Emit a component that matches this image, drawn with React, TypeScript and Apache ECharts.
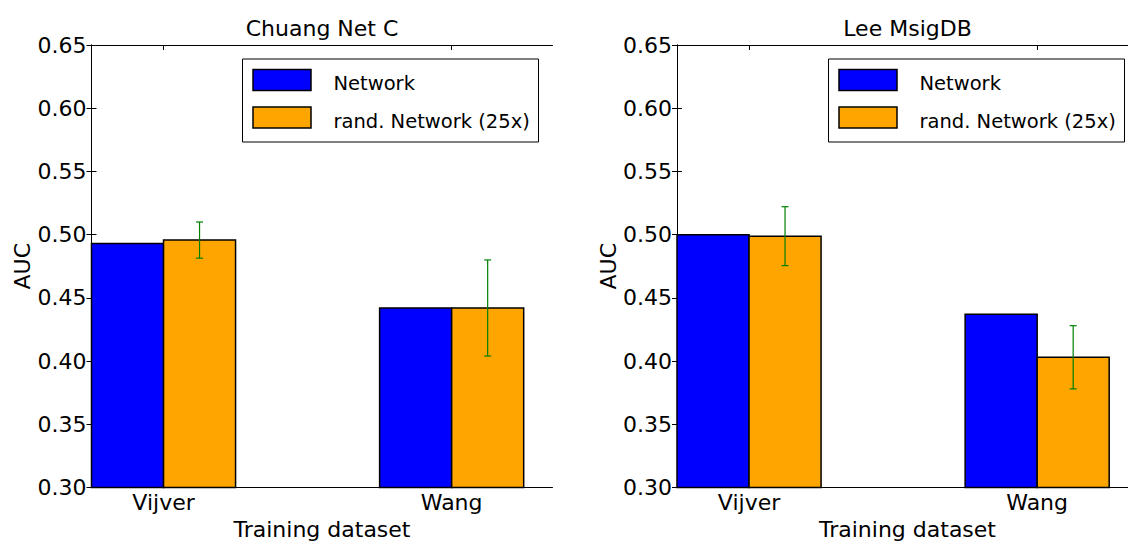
import React, { useEffect, useRef } from 'react';
import * as echarts from 'echarts';

const categories = ['Vijver', 'Wang'];
const panelTitles = ['Chuang Net C', 'Lee MsigDB'];
const seriesNames = ['Network', 'rand. Network (25x)'];
const seriesColors = ['#0000ff', '#ffa500'];
const errorColor = '#008000';

const chuangNetwork = [0.493, 0.442];
const chuangRand = [0.4957, 0.442];
const chuangRandErr = [0.0143, 0.038];

const leeNetwork = [0.5, 0.437];
const leeRand = [0.4988, 0.403];
const leeRandErr = [0.0233, 0.025];

const yMin = 0.3;
const yMax = 0.65;
const yStep = 0.05;
const barWidth = 0.25;
const xMax = 1.6;

const FONT = 'DejaVu Sans';

const panels = [
  { title: panelTitles[0], net: chuangNetwork, rand: chuangRand, err: chuangRandErr },
  { title: panelTitles[1], net: leeNetwork, rand: leeRand, err: leeRandErr },
];

const gridLeft = [91.5, 677];
const gridWidth = 461;
const gridTop = 45;
const gridHeight = 442.5;

export default function App() {
  const ref = useRef<HTMLDivElement>(null);
  useEffect(() => {
    if (!ref.current) return;
    const chart = echarts.init(ref.current, undefined, { renderer: 'svg' });
    const tickPos = categories.map((_, i) => i + barWidth);
    const labelFor = (v: number) => {
      const idx = tickPos.findIndex((t) => Math.abs(t - v) < 1e-6);
      return idx >= 0 ? categories[idx] : '';
    };
    const axisLineStyle = { color: '#000', width: 1 };
    const grids: any[] = [];
    const xAxes: any[] = [];
    const yAxes: any[] = [];
    const series: any[] = [];
    const graphics: any[] = [];

    panels.forEach((p, pi) => {
      grids.push({
        left: gridLeft[pi], top: gridTop, width: gridWidth, height: gridHeight,
        containLabel: false, outerBoundsMode: 'none',
      });
      xAxes.push({
        gridIndex: pi, type: 'value', min: 0, max: xMax, position: 'bottom',
        axisLine: { show: true, lineStyle: axisLineStyle },
        axisTick: { show: true, inside: true, length: 5, customValues: tickPos, lineStyle: axisLineStyle },
        axisLabel: { show: true, customValues: tickPos, formatter: (v: number) => labelFor(v), fontSize: 22, color: '#000', fontFamily: FONT, margin: 4 },
        splitLine: { show: false },
        name: 'Training dataset', nameLocation: 'middle', nameGap: 30,
        nameTextStyle: { fontSize: 22, color: '#000', fontFamily: FONT },
      });
      xAxes.push({
        gridIndex: pi, type: 'value', min: 0, max: xMax, position: 'top',
        axisLine: { show: true, lineStyle: axisLineStyle },
        axisTick: { show: true, inside: true, length: 5, customValues: tickPos, lineStyle: axisLineStyle },
        axisLabel: { show: false },
        splitLine: { show: false },
      });
      yAxes.push({
        gridIndex: pi, type: 'value', min: yMin, max: yMax, interval: yStep, position: 'left',
        axisLine: { show: true, lineStyle: axisLineStyle },
        axisTick: { show: true, inside: true, length: 5, lineStyle: axisLineStyle },
        axisLabel: { formatter: (v: number) => v.toFixed(2), fontSize: 22, color: '#000', fontFamily: FONT, margin: 5 },
        splitLine: { show: false },
        name: 'AUC', nameLocation: 'middle', nameGap: 58, nameRotate: 90,
        nameTextStyle: { fontSize: 22, color: '#000', fontFamily: FONT },
      });
      yAxes.push({
        gridIndex: pi, type: 'value', min: yMin, max: yMax, interval: yStep, position: 'right',
        axisLine: { show: true, lineStyle: axisLineStyle },
        axisTick: { show: true, inside: true, length: 5, lineStyle: axisLineStyle },
        axisLabel: { show: false },
        splitLine: { show: false },
      });

      const xIdx = pi * 2;
      const yIdx = pi * 2;
      const barRender = (params: any, api: any) => {
        const x0 = api.value(0);
        const v = api.value(1);
        const a = api.coord([x0, yMin]);
        const b = api.coord([x0 + barWidth, v]);
        return {
          type: 'rect',
          shape: { x: a[0], y: b[1], width: b[0] - a[0], height: a[1] - b[1] },
          style: { fill: api.visual('color'), stroke: '#000', lineWidth: 1.5 },
        };
      };
      const vals = [p.net, p.rand];
      vals.forEach((arr, si) => {
        series.push({
          type: 'custom', name: seriesNames[si], xAxisIndex: xIdx, yAxisIndex: yIdx,
          itemStyle: { color: seriesColors[si] },
          encode: { x: 0, y: 1 },
          data: arr.map((v, i) => [i + si * barWidth, v]),
          renderItem: barRender,
          clip: false,
        });
      });
      series.push({
        type: 'custom', name: seriesNames[1] + ' error', xAxisIndex: xIdx, yAxisIndex: yIdx,
        encode: { x: 0, y: 1 },
        data: p.rand.map((v, i) => [i + 1.5 * barWidth, v, p.err[i]]),
        renderItem: (params: any, api: any) => {
          const xc = api.value(0);
          const v = api.value(1);
          const e = api.value(2);
          const top = api.coord([xc, v + e]);
          const bot = api.coord([xc, v - e]);
          const cw = 3.5;
          const st = { stroke: errorColor, lineWidth: 1.2 };
          return {
            type: 'group',
            children: [
              { type: 'line', shape: { x1: top[0], y1: top[1], x2: bot[0], y2: bot[1] }, style: st },
              { type: 'line', shape: { x1: top[0] - cw, y1: top[1], x2: top[0] + cw, y2: top[1] }, style: st },
              { type: 'line', shape: { x1: bot[0] - cw, y1: bot[1], x2: bot[0] + cw, y2: bot[1] }, style: st },
            ],
          };
        },
        clip: false,
      });

      // title
      graphics.push({
        type: 'text', x: gridLeft[pi] + gridWidth / 2, y: 28,
        style: { text: p.title, fontSize: 22, fontFamily: FONT, fill: '#000', align: 'center', verticalAlign: 'middle' },
      });
      // legend
      const lx = [242.5, 828.5][pi];
      const ly = 59;
      graphics.push({
        type: 'rect', shape: { x: lx, y: ly, width: 296, height: 83 },
        style: { fill: '#fff', stroke: '#000', lineWidth: 1 }, z: 10,
      });
      seriesNames.forEach((nm, si) => {
        graphics.push({
          type: 'rect', shape: { x: lx + 10.5, y: ly + 10.5 + si * 37.5, width: 58, height: 21 },
          style: { fill: seriesColors[si], stroke: '#000', lineWidth: 1.5 }, z: 11,
        });
        graphics.push({
          type: 'text', x: lx + 91, y: ly + 24.5 + si * 37.5,
          style: { text: nm, fontSize: 19.5, fontFamily: FONT, fill: '#000', align: 'left', verticalAlign: 'middle' }, z: 11,
        });
      });
    });

    chart.setOption({
      animation: false,
      backgroundColor: '#fff',
      grid: grids,
      xAxis: xAxes,
      yAxis: yAxes,
      series,
      graphic: graphics,
    });
    return () => chart.dispose();
  }, []);
  return <div ref={ref} style={{ position: 'absolute', left: 0, top: 0, width: 1128, height: 542 }} />;
}
